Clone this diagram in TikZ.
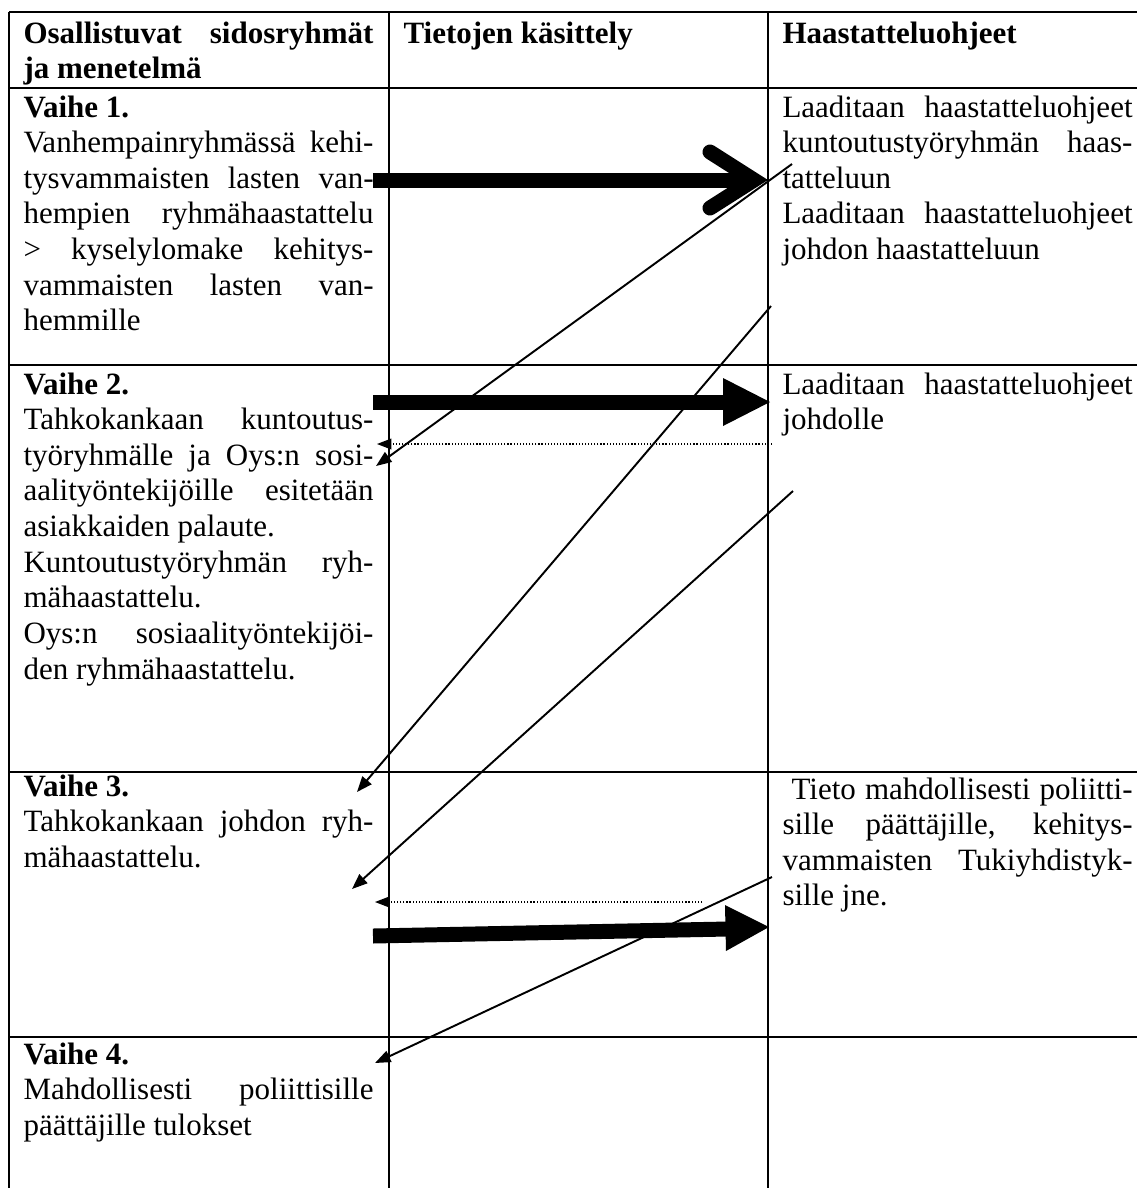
\documentclass[tikz,border=0pt]{standalone}
\usepackage{fontspec}
\setmainfont{Liberation Serif}
\usetikzlibrary{arrows.meta}
\newcommand\J[1]{\makebox[\linewidth][s]{#1}}
\newcommand\cellbox[1]{\parbox[t]{135.5pt}{\fontsize{12}{13.8}\selectfont #1}}
\begin{document}
\begin{tikzpicture}[x=0.3871pt,y=-0.3871pt,
  grid/.style={line width=1.1pt},
  cell/.style={anchor=base west, inner sep=0pt, align=left},
  thinarrow/.style={line width=0.75pt, -{Triangle[length=6pt,width=4.6pt]}},
  dotarrow/.style={line width=0.45pt, dash pattern=on 0.45pt off 0.75pt, -{Triangle[length=5.6pt,width=4.2pt]}},
  fatline/.style={line width=5.8pt},
  fathead/.style={line width=5.8pt, line cap=round, line join=miter},
  solidhead/.style={fill=black, draw=none}]
\useasboundingbox (0,0) rectangle (1137,1188);
% table grid
\draw[grid] (9,12) -- (1137,12);
\draw[grid] (9,88) -- (1137,88);
\draw[grid] (9,365) -- (1137,365);
\draw[grid] (9,772) -- (1137,772);
\draw[grid] (9,1037) -- (1137,1037);
\draw[grid] (9,12) -- (9,1188);
\draw[grid] (389,12) -- (389,1188);
\draw[grid] (768,12) -- (768,1188);
% header
\node[cell] (h1) at (23,43) {\cellbox{\bfseries \J{Osallistuvat sidosryhmät}\\ja menetelmä}};
\node[cell] (h2) at (403,43) {\cellbox{\bfseries Tietojen käsittely}};
\node[cell] (h3) at (782,43) {\cellbox{\bfseries Haastatteluohjeet}};
% row 1
\node[cell] (r1a) at (23,117) {\cellbox{\textbf{Vaihe 1.}\\\J{Vanhempainryhmässä kehi-}\\\J{tysvammaisten lasten van-}\\\J{hempien ryhmähaastattelu}\\\J{> kyselylomake kehitys-}\\\J{vammaisten lasten van-}\\hemmille}};
\node[cell] (r1c) at (782,117) {\cellbox{\J{Laaditaan haastatteluohjeet}\\\J{kuntoutustyöryhmän haas-}\\tatteluun\\\J{Laaditaan haastatteluohjeet}\\johdon haastatteluun}};
% row 2
\node[cell] (r2a) at (23,394) {\cellbox{\textbf{Vaihe 2.}\\\J{Tahkokankaan kuntoutus-}\\\J{työryhmälle ja Oys:n sosi-}\\\J{aalityöntekijöille esitetään}\\asiakkaiden palaute.\\\J{Kuntoutustyöryhmän ryh-}\\mähaastattelu.\\\J{Oys:n sosiaalityöntekijöi-}\\den ryhmähaastattelu.}};
\node[cell] (r2c) at (782,394) {\cellbox{\J{Laaditaan haastatteluohjeet}\\johdolle}};
% row 3
\node[cell] (r3a) at (23,796) {\cellbox{\textbf{Vaihe 3.}\\\J{Tahkokankaan johdon ryh-}\\mähaastattelu.}};
\node[cell] (r3c) at (782,799) {\cellbox{\J{\hspace*{3.5pt}Tieto mahdollisesti poliitti-}\\\J{sille päättäjille, kehitys-}\\\J{vammaisten Tukiyhdistyk-}\\sille jne.}};
% row 4
\node[cell] (r4a) at (23,1064) {\cellbox{\textbf{Vaihe 4.}\\\J{Mahdollisesti poliittisille}\\päättäjille tulokset}};
% connector end points
\coordinate (f1s) at (373,180);
\coordinate (f1e) at (750,180);
\coordinate (f1u) at (710,152);
\coordinate (f1t) at (754,180);
\coordinate (f1d) at (710,208);
\coordinate (f2s) at (373,402);
\coordinate (f2e) at (726,402);
\coordinate (f2u) at (723,378);
\coordinate (f2t) at (770,402);
\coordinate (f2d) at (723,426);
\coordinate (f3s) at (373,936);
\coordinate (f3e) at (728,929);
\coordinate (f3u) at (725,905);
\coordinate (f3t) at (769,927);
\coordinate (f3d) at (726,951);
\coordinate (a1) at (792,164);
\coordinate (a2) at (376,466);
\coordinate (b1) at (771,306);
\coordinate (b2) at (357,792);
\coordinate (c1) at (793,491);
\coordinate (c2) at (352,889);
\coordinate (d1) at (772,877);
\coordinate (d2) at (375,1063);
\coordinate (e1) at (772,444);
\coordinate (e2) at (377,444);
\coordinate (g1) at (702,902);
\coordinate (g2) at (375,902);
% thick arrows
\draw[fatline] (f1s) -- (f1e);
\draw[fathead] (f1u) -- (f1t) -- (f1d);
\draw[fatline] (f2s) -- (f2e);
\fill[solidhead] (f2u) -- (f2t) -- (f2d) -- cycle;
\draw[fatline] (f3s) -- (f3e);
\fill[solidhead] (f3u) -- (f3t) -- (f3d) -- cycle;
% thin arrows
\draw[thinarrow] (a1) -- (a2);
\draw[thinarrow] (b1) -- (b2);
\draw[thinarrow] (c1) -- (c2);
\draw[thinarrow] (d1) -- (d2);
% dotted arrows
\draw[dotarrow] (e1) -- (e2);
\draw[dotarrow] (g1) -- (g2);
\end{tikzpicture}
\end{document}
